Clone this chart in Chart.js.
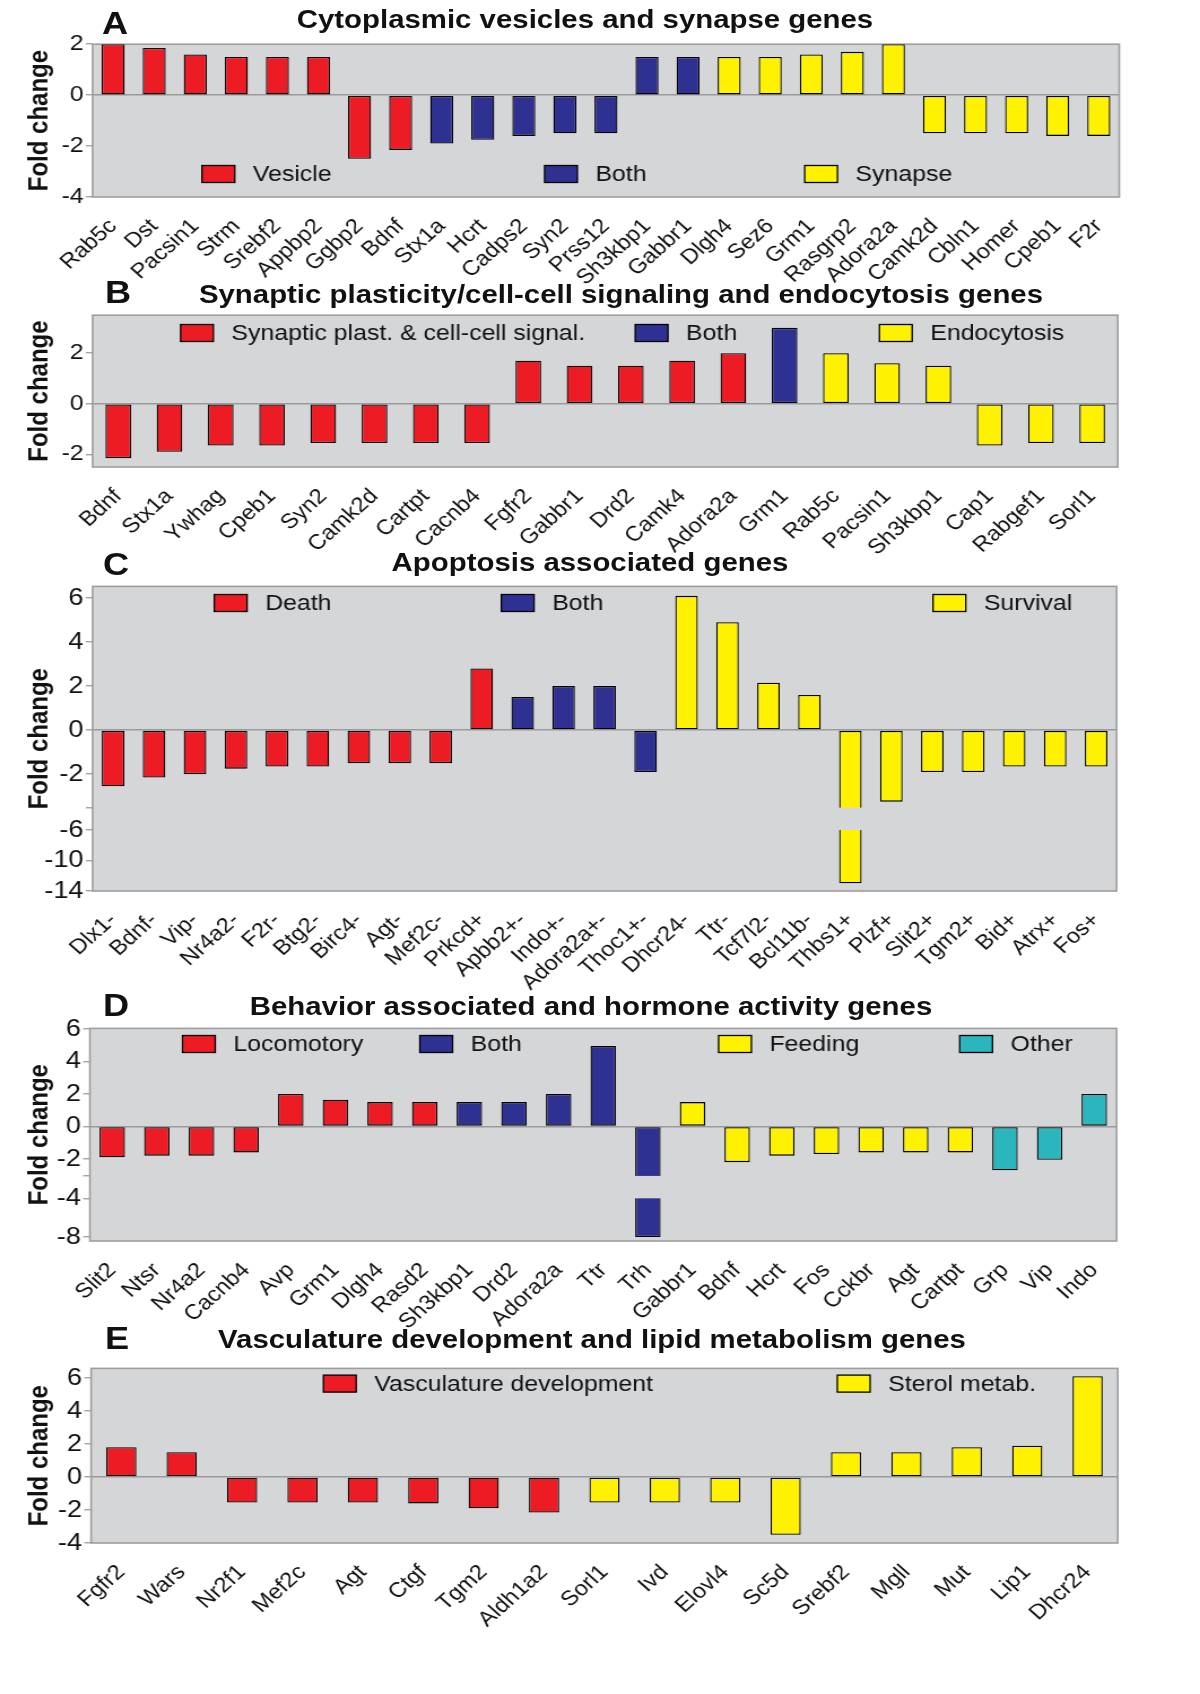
<!DOCTYPE html>
<html>
<head>
<meta charset="utf-8">
<script src="https://cdn.jsdelivr.net/npm/chart.js@4.4.1/dist/chart.umd.min.js"></script>
<style>
  html, body { margin: 0; padding: 0; background: #fff; overflow: hidden; }
  #page {
    position: absolute; left: 0; top: 0; width: 1062px; height: 1694px;
    transform: scaleX(1.13); transform-origin: 0 0;
    font-family: "Liberation Sans", Arial, sans-serif; color: #111;
  }
  canvas { position: absolute; left: 0; }
  .ttl { position: absolute; width: 1000px; text-align: center; white-space: nowrap;
         font-weight: bold; font-size: 26px; line-height: 26px; }
  .ltr { position: absolute; white-space: nowrap; font-weight: bold; font-size: 32px; line-height: 32px; }
</style>
</head>
<body>
<div id="page"></div>
<script>
// ---- data ----
const aTitle = 'Cytoplasmic vesicles and synapse genes';
const aGenes = ['Rab5c','Dst','Pacsin1','Strm','Srebf2','Appbp2','Ggbp2','Bdnf','Stx1a','Hcrt','Cadps2','Syn2','Prss12',
                'Sh3kbp1','Gabbr1','Dlgh4','Sez6','Grm1','Rasgrp2','Adora2a','Camk2d','Cbln1','Homer','Cpeb1','F2r'];
const aValues = [2.0, 1.85, 1.6, 1.5, 1.5, 1.5, -2.5, -2.15, -1.9, -1.75, -1.6, -1.5, -1.5,
                 1.5, 1.5, 1.5, 1.5, 1.6, 1.7, 2.0, -1.5, -1.5, -1.5, -1.6, -1.6];
const aLegend = ['Vesicle', 'Both', 'Synapse'];
const aGroups = ['Vesicle','Vesicle','Vesicle','Vesicle','Vesicle','Vesicle','Vesicle','Vesicle',
                 'Both','Both','Both','Both','Both','Both','Both',
                 'Synapse','Synapse','Synapse','Synapse','Synapse','Synapse','Synapse','Synapse','Synapse','Synapse'];
const aTicks = [2, 0, -2, -4];

const bTitle = 'Synaptic plasticity/cell-cell signaling and endocytosis genes';
const bGenes = ['Bdnf','Stx1a','Ywhag','Cpeb1','Syn2','Camk2d','Cartpt','Cacnb4','Fgfr2','Gabbr1','Drd2','Camk4','Adora2a',
                'Grm1','Rab5c','Pacsin1','Sh3kbp1','Cap1','Rabgef1','Sorl1'];
const bValues = [-2.15, -1.9, -1.65, -1.65, -1.55, -1.55, -1.55, -1.55, 1.7, 1.5, 1.5, 1.7, 2.0,
                 3.0, 2.0, 1.6, 1.5, -1.65, -1.55, -1.55];
const bLegend = ['Synaptic plast. & cell-cell signal.', 'Both', 'Endocytosis'];
const bGroups = ['Synaptic plast. & cell-cell signal.','Synaptic plast. & cell-cell signal.','Synaptic plast. & cell-cell signal.',
                 'Synaptic plast. & cell-cell signal.','Synaptic plast. & cell-cell signal.','Synaptic plast. & cell-cell signal.',
                 'Synaptic plast. & cell-cell signal.','Synaptic plast. & cell-cell signal.','Synaptic plast. & cell-cell signal.',
                 'Synaptic plast. & cell-cell signal.','Synaptic plast. & cell-cell signal.','Synaptic plast. & cell-cell signal.',
                 'Synaptic plast. & cell-cell signal.',
                 'Both',
                 'Endocytosis','Endocytosis','Endocytosis','Endocytosis','Endocytosis','Endocytosis'];
const bTicks = [2, 0, -2];

const cTitle = 'Apoptosis associated genes';
const cGenes = ['Dlx1-','Bdnf-','Vip-','Nr4a2-','F2r-','Btg2-','Birc4-','Agt-','Mef2c-','Prkcd+',
                'Apbb2+-','Indo+-','Adora2a+-','Thoc1+-',
                'Dhcr24-','Ttr-','Tcf7l2-','Bcl11b-','Thbs1+','Plzf+','Slit2+','Tgm2+','Bid+','Atrx+','Fos+'];
const cValues = [-2.55, -2.15, -2.0, -1.75, -1.65, -1.65, -1.5, -1.5, -1.5, 2.8,
                 1.5, 2.0, 2.0, -1.9,
                 6.1, 4.9, 2.15, 1.6, -13, -3.25, -1.9, -1.9, -1.65, -1.65, -1.65];
const cLegend = ['Death', 'Both', 'Survival'];
const cGroups = ['Death','Death','Death','Death','Death','Death','Death','Death','Death','Death',
                 'Both','Both','Both','Both',
                 'Survival','Survival','Survival','Survival','Survival','Survival','Survival','Survival','Survival','Survival','Survival'];
const cTicks = [6, 4, 2, 0, -2, -6, -10, -14];

const dTitle = 'Behavior associated and hormone activity genes';
const dGenes = ['Slit2','Ntsr','Nr4a2','Cacnb4','Avp','Grm1','Dlgh4','Rasd2',
                'Sh3kbp1','Drd2','Adora2a','Ttr','Trh',
                'Gabbr1','Bdnf','Hcrt','Fos','Cckbr','Agt','Cartpt',
                'Grp','Vip','Indo'];
const dValues = [-1.9, -1.8, -1.8, -1.6, 2.0, 1.65, 1.5, 1.5,
                 1.5, 1.5, 2.0, 4.95, -8,
                 1.5, -2.2, -1.8, -1.7, -1.6, -1.6, -1.6,
                 -2.7, -2.05, 2.0];
const dLegend = ['Locomotory', 'Both', 'Feeding', 'Other'];
const dGroups = ['Locomotory','Locomotory','Locomotory','Locomotory','Locomotory','Locomotory','Locomotory','Locomotory',
                 'Both','Both','Both','Both','Both',
                 'Feeding','Feeding','Feeding','Feeding','Feeding','Feeding','Feeding',
                 'Other','Other','Other'];
const dTicks = [6, 4, 2, 0, -2, -4, -8];

const eTitle = 'Vasculature development and lipid metabolism genes';
const eGenes = ['Fgfr2','Wars','Nr2f1','Mef2c','Agt','Ctgf','Tgm2','Aldh1a2',
                'Sorl1','Ivd','Elovl4','Sc5d','Srebf2','Mgll','Mut','Lip1','Dhcr24'];
const eValues = [1.8, 1.5, -1.55, -1.55, -1.55, -1.6, -1.9, -2.15,
                 -1.55, -1.55, -1.55, -3.5, 1.5, 1.5, 1.8, 1.9, 6.1];
const eLegend = ['Vasculature development', 'Sterol metab.'];
const eGroups = ['Vasculature development','Vasculature development','Vasculature development','Vasculature development',
                 'Vasculature development','Vasculature development','Vasculature development','Vasculature development',
                 'Sterol metab.','Sterol metab.','Sterol metab.','Sterol metab.','Sterol metab.','Sterol metab.',
                 'Sterol metab.','Sterol metab.','Sterol metab.'];
const eTicks = [6, 4, 2, 0, -2, -4];

// ---- style / layout ----
const RED = '#ED1C24', BLUE = '#2E3192', YELLOW = '#FFF200', TEAL = '#2BB5BD';
const BG = '#D5D6D8', FRAME = '#9E9E9E';
const S = 1.13;                 // horizontal stretch of the whole figure
const CW = Math.round(1200 / S);
const PAD_T = 14, XH = 100;

Chart.defaults.font.family = "'Liberation Sans', Arial, sans-serif";
Chart.defaults.color = '#111';

const panels = [
  { letter: 'A', title: aTitle, genes: aGenes, values: aValues, legend: aLegend, groups: aGroups, ticks: aTicks,
    colors: [RED, BLUE, YELLOW],
    box: { left: 92.6, right: 1119.3, top: 43, bottom: 197, yMin: -4, yMax: 2, tick: 22, bar: 0.56,
           legY: 174, legX: [202, 544.6, 804.7], titleX: 585, titleY: 19, letX: 102, letY: 23 } },
  { letter: 'B', title: bTitle, genes: bGenes, values: bValues, legend: bLegend, groups: bGroups, ticks: bTicks,
    colors: [RED, BLUE, YELLOW],
    box: { left: 92.6, right: 1117.8, top: 314, bottom: 467, yMin: -2.5, yMax: 3.5, tick: 22, bar: 0.5,
           legY: 333, legX: [180.6, 635.2, 879.4], titleX: 621, titleY: 294, letX: 105, letY: 292 } },
  { letter: 'C', title: cTitle, genes: cGenes, values: cValues, legend: cLegend, groups: cGroups, ticks: cTicks,
    colors: [RED, BLUE, YELLOW],
    brk: { from: -3.52, ref: -6, refDisp: -4.54, slope: 0.346 },
    box: { left: 92.6, right: 1116.6, top: 584, bottom: 891, yMin: -7.31, yMax: 6.53, tick: 24, bar: 0.55,
           legY: 603, legX: [214.3, 501.3, 933], titleX: 590, titleY: 562, letX: 103, letY: 564 } },
  { letter: 'D', title: dTitle, genes: dGenes, values: dValues, legend: dLegend, groups: dGroups, ticks: dTicks,
    colors: [RED, BLUE, YELLOW, TEAL],
    brk: { from: -3.05, ref: -4, refDisp: -4.43, slope: 0.595 },
    box: { left: 89.9, right: 1116.6, top: 1026, bottom: 1241, yMin: -7.06, yMax: 6.04, tick: 24, bar: 0.57,
           legY: 1044, legX: [182.5, 419.8, 718.6, 959.7], titleX: 591, titleY: 1006, letX: 103, letY: 1005 } },
  { letter: 'E', title: eTitle, genes: eGenes, values: eValues, legend: eLegend, groups: eGroups, ticks: eTicks,
    colors: [RED, YELLOW],
    box: { left: 91.1, right: 1117.8, top: 1366, bottom: 1543, yMin: -4, yMax: 6.58, tick: 24, bar: 0.5,
           legY: 1383.6, legX: [323.4, 837.3], titleX: 592, titleY: 1339, letX: 105, letY: 1338 } }
];

const page = document.getElementById('page');

// plot background, frame, broken-bar gaps and the in-plot legend
const framePlugin = {
  id: 'panelFrame',
  beforeDraw(chart) {
    const a = chart.chartArea, ctx = chart.ctx;
    ctx.save();
    ctx.fillStyle = BG;
    ctx.fillRect(a.left, a.top, a.right - a.left, a.bottom - a.top);
    ctx.restore();
  },
  beforeDatasetsDraw(chart) {
    const a = chart.chartArea, ctx = chart.ctx;
    ctx.save();
    ctx.strokeStyle = FRAME;
    ctx.lineWidth = 1.6;
    ctx.strokeRect(a.left, a.top, a.right - a.left, a.bottom - a.top);
    ctx.restore();
  },
  afterDatasetsDraw(chart, args, opts) {
    const ctx = chart.ctx, y = chart.scales.y;
    ctx.save();
    if (opts.brk) {
      const y1 = y.getPixelForValue(opts.brk.from), y2 = y.getPixelForValue(opts.brk.refDisp);
      const ds = chart.data.datasets[0].data;
      chart.getDatasetMeta(0).data.forEach((bar, i) => {
        if (ds[i] < opts.brk.from) {
          ctx.fillStyle = BG;
          ctx.fillRect(bar.x - bar.width / 2 - 2, y1, bar.width + 4, y2 - y1);
        }
      });
    }
    ctx.font = "22px 'Liberation Sans', Arial, sans-serif";
    ctx.textBaseline = 'middle';
    ctx.textAlign = 'left';
    (opts.items || []).forEach(it => {
      ctx.fillStyle = it.color;
      ctx.fillRect(it.x, it.y - 8.5, 29, 17);
      ctx.strokeStyle = '#000';
      ctx.lineWidth = 1.3;
      ctx.strokeRect(it.x, it.y - 8.5, 29, 17);
      ctx.fillStyle = '#111';
      ctx.fillText(it.label, it.x + 29 + 16, it.y + 1);
    });
    ctx.restore();
  }
};

function addDiv(cls, text, left, top) {
  const d = document.createElement('div');
  d.className = cls;
  d.textContent = text;
  d.style.left = left + 'px';
  d.style.top = top + 'px';
  page.appendChild(d);
}

function buildPanel(p) {
  const L = p.box;
  const fwd = v => (!p.brk || v >= p.brk.from) ? v : p.brk.refDisp + (v - p.brk.ref) * p.brk.slope;
  const tickItems = p.ticks.map(v => ({ value: fwd(v), label: String(v) }));
  if (p.brk) tickItems.push({ value: p.brk.from, label: '' });
  tickItems.sort((u, w) => u.value - w.value);

  const top = Math.round(L.top) - PAD_T;
  const h = Math.round(L.bottom) - Math.round(L.top) + PAD_T + XH;
  const canvas = document.createElement('canvas');
  canvas.width = CW;
  canvas.height = h;
  canvas.style.top = top + 'px';
  canvas.style.width = CW + 'px';
  canvas.style.height = h + 'px';
  page.appendChild(canvas);

  const fills = p.groups.map(g => p.colors[p.legend.indexOf(g)]);
  const items = p.legend.map((lab, i) => ({ label: lab, color: p.colors[i], x: L.legX[i] / S, y: L.legY - top }));

  new Chart(canvas, {
    type: 'bar',
    data: {
      labels: p.genes,
      datasets: [{
        data: p.values.map(fwd),
        backgroundColor: fills,
        borderColor: '#000',
        borderWidth: 1.3,
        borderSkipped: false,
        barPercentage: L.bar,
        categoryPercentage: 1
      }]
    },
    options: {
      responsive: false,
      animation: false,
      devicePixelRatio: 1,
      layout: { padding: { top: PAD_T, left: 0, bottom: 0, right: CW - L.right / S } },
      plugins: {
        legend: { display: false },
        tooltip: { enabled: false },
        panelFrame: { items: items, brk: p.brk }
      },
      scales: {
        x: {
          grid: { display: false },
          border: { display: false },
          ticks: { autoSkip: false, minRotation: 45, maxRotation: 45, padding: 9, color: '#111', font: { size: 21 } },
          afterFit: s => { s.height = XH; }
        },
        y: {
          min: L.yMin,
          max: L.yMax,
          afterBuildTicks: s => { s.ticks = tickItems.map(t => ({ value: t.value })); },
          afterTickToLabelConversion: s => { s.ticks.forEach((t, i) => { t.label = tickItems[i].label; }); },
          afterFit: s => { s.width = L.left / S; },
          grid: {
            drawOnChartArea: true,
            color: c => (c.tick && c.tick.value === 0) ? '#9A9A9A' : 'rgba(0,0,0,0)',
            lineWidth: 1.5,
            tickColor: FRAME,
            tickLength: 6,
            tickWidth: 1.3
          },
          border: { display: false },
          ticks: { autoSkip: false, padding: 2, color: '#111', font: { size: L.tick } },
          title: { display: true, text: 'Fold change', color: '#111',
                   font: { size: 24, weight: 'bold' }, padding: { top: 21, bottom: 0 } }
        }
      }
    },
    plugins: [framePlugin]
  });

  addDiv('ttl', p.title, L.titleX / S - 500, L.titleY - 12.7);
  addDiv('ltr', p.letter, L.letX / S, L.letY - 15.6);
}

panels.forEach(buildPanel);
</script>
</body>
</html>
